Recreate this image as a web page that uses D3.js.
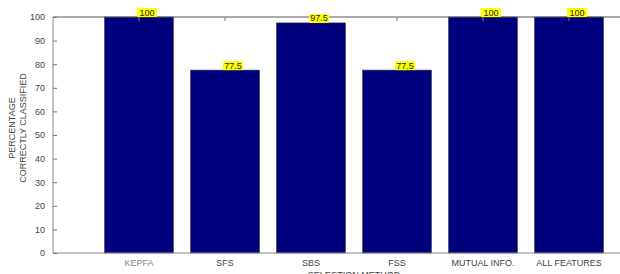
<!DOCTYPE html>
<html>
<head>
<meta charset="utf-8">
<script src="https://cdn.jsdelivr.net/npm/d3@7"></script>
<style>
  body { margin: 0; background: #fff; }
  svg { display: block; font-family: "Liberation Sans", Arial, sans-serif; }
</style>
</head>
<body>
<svg id="chart" width="620" height="274"></svg>
<script>
var methods = ["KEPFA", "SFS", "SBS", "FSS", "MUTUAL INFO.", "ALL FEATURES"];
var accuracy = [100, 77.5, 97.5, 77.5, 100, 100];
var valueLabels = ["100", "77.5", "97.5", "77.5", "100", "100"];
var yTicks = [0, 10, 20, 30, 40, 50, 60, 70, 80, 90, 100];

var svg = d3.select("#chart");
// note: "top" is taken by window.top, so use plot* names
var plotL = 53, plotR = 655, plotT = 17, plotB = 253;

// matlab style: categories at 1..6, xlim [0, 7]
var x = d3.scaleLinear().domain([0, 7]).range([plotL, plotR]);
var y = d3.scaleLinear().domain([0, 100]).range([plotB, plotT]);
var barW = x(0.8) - x(0);

// bars
svg.selectAll("rect.bar")
  .data(accuracy)
  .enter().append("rect")
  .attr("class", "bar")
  .attr("x", function (d, i) { return x(i + 1) - barW / 2; })
  .attr("y", function (d) { return y(d); })
  .attr("width", barW)
  .attr("height", function (d) { return plotB - y(d); })
  .attr("fill", "#00007f")
  .attr("stroke", "#333")
  .attr("stroke-width", 0.6);

// axes box
svg.append("line").attr("x1", plotL).attr("x2", plotR).attr("y1", plotT).attr("y2", plotT)
  .attr("stroke", "#555").attr("stroke-width", 1);
svg.append("line").attr("x1", plotL).attr("x2", plotR).attr("y1", plotB).attr("y2", plotB)
  .attr("stroke", "#888").attr("stroke-width", 1);
svg.append("line").attr("x1", plotL).attr("x2", plotL).attr("y1", plotT).attr("y2", plotB)
  .attr("stroke", "#888").attr("stroke-width", 1);

// y axis (ticks inside)
var yAxis = d3.axisLeft(y).tickValues(yTicks).tickSize(-4).tickPadding(8);
var gy = svg.append("g").attr("transform", "translate(" + plotL + ",0)").call(yAxis);
gy.select(".domain").remove();
gy.selectAll("line").attr("stroke", "#777");
gy.selectAll("text").attr("font-size", 9).attr("fill", "#444")
  .attr("font-family", "Liberation Sans, Arial, sans-serif");

// x axis ticks at top (inside)
svg.selectAll("line.xt")
  .data(methods)
  .enter().append("line")
  .attr("class", "xt")
  .attr("x1", function (d, i) { return x(i + 1); })
  .attr("x2", function (d, i) { return x(i + 1); })
  .attr("y1", plotT).attr("y2", plotT + 4)
  .attr("stroke", "#777");

// category labels
svg.selectAll("text.cat")
  .data(methods)
  .enter().append("text")
  .attr("class", "cat")
  .attr("x", function (d, i) { return x(i + 1); })
  .attr("y", 266)
  .attr("text-anchor", "middle")
  .attr("font-size", 9)
  .attr("fill", function (d, i) { return i === 0 ? "#888" : "#444"; })
  .text(function (d) { return d; });

// x axis title
svg.append("text")
  .attr("x", (plotL + plotR) / 2)
  .attr("y", 278)
  .attr("text-anchor", "middle")
  .attr("font-size", 9)
  .attr("fill", "#444")
  .text("SELECTION METHOD");

// y axis title, two lines
var yt = svg.append("text")
  .attr("transform", "translate(15," + ((plotT + plotB) / 2 - 7) + ") rotate(-90)")
  .attr("text-anchor", "middle")
  .attr("font-size", 9)
  .attr("fill", "#444");
yt.append("tspan").attr("x", 0).attr("dy", 0).text("PERCENTAGE");
yt.append("tspan").attr("x", 0).attr("dy", 10.5).text("CORRECTLY CLASSIFIED");

// value labels with yellow background
var lab = svg.selectAll("g.val")
  .data(accuracy)
  .enter().append("g")
  .attr("class", "val")
  .attr("transform", function (d, i) { return "translate(" + (x(i + 1) - 2) + "," + y(d) + ")"; });
lab.append("rect")
  .attr("x", 0).attr("y", -9)
  .attr("width", 20).attr("height", 9)
  .attr("fill", "#ffff00");
lab.append("text")
  .attr("x", 10).attr("y", -1.5)
  .attr("text-anchor", "middle")
  .attr("font-size", 9)
  .attr("fill", "#222")
  .text(function (d, i) { return valueLabels[i]; });
</script>
</body>
</html>
